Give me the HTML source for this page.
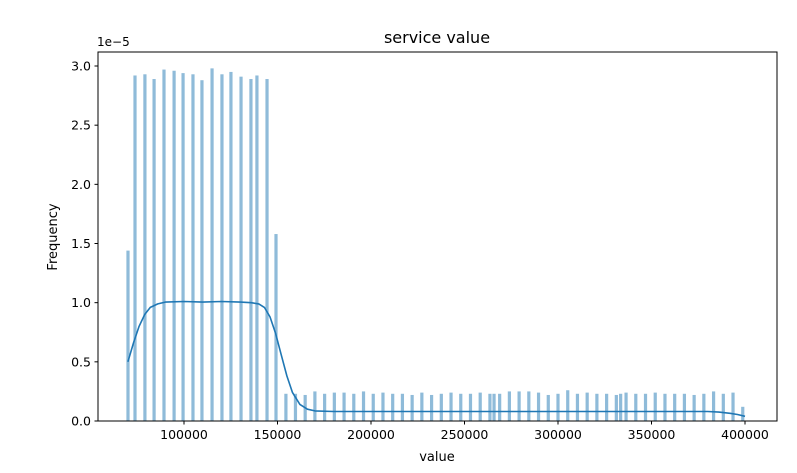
<!DOCTYPE html>
<html><head><meta charset="utf-8"><style>
body{margin:0;background:#fff;font-family:"Liberation Sans","DejaVu Sans",sans-serif}
svg text{font-family:"DejaVu Sans","Liberation Sans",sans-serif;fill:#000}
</style></head><body>
<svg id="c" width="797" height="468">
<rect x="0" y="0" width="797" height="468" fill="#fff"/>
<g id="bars"></g>
<g id="kde"></g>
<g id="axes"></g>
<rect x="98" y="52" width="679" height="369" fill="none" stroke="#000" stroke-width="1"/>
<text x="437" y="43" font-size="16" text-anchor="middle">service value</text>
<text x="437" y="461" font-size="13" text-anchor="middle">value</text>
<text x="0" y="0" font-size="13" text-anchor="middle" transform="translate(57,237) rotate(-90)">Frequency</text>
<text x="97" y="46" font-size="12">1e−5</text>
</svg>
<script>
const binCenters=[70050,73800,79100,84000,89300,94700,99500,104800,109600,115000,120300,125100,130500,135800,139000,144400,149200,
154500,159600,164800,170000,175200,180400,185600,190800,196000,201200,206400,211600,216800,222000,227200,232400,237600,242800,248000,253200,258400,263600,265800,268800,274000,279200,284400,289600,294800,300000,305200,310400,315600,320800,326000,331200,333500,336400,341600,346800,352000,357200,362400,367600,372800,378000,383200,388400,393600,398800];
const binHeights=[1.44,2.92,2.93,2.89,2.97,2.96,2.94,2.93,2.88,2.98,2.93,2.95,2.91,2.89,2.92,2.89,1.58,
0.23,0.23,0.22,0.25,0.23,0.24,0.24,0.23,0.25,0.23,0.24,0.23,0.23,0.22,0.24,0.22,0.23,0.24,0.23,0.23,0.24,0.23,0.23,0.23,0.25,0.25,0.25,0.24,0.22,0.23,0.26,0.23,0.24,0.23,0.23,0.22,0.23,0.24,0.23,0.23,0.24,0.23,0.23,0.23,0.22,0.23,0.25,0.23,0.24,0.12];
const kdeX=[70000,73000,76000,79000,82000,86000,90000,100000,110000,120000,130000,136000,140000,143000,146000,149000,152000,155000,158000,162000,166000,170000,180000,200000,250000,300000,350000,380000,386000,392000,396000,400000];
const kdeY=[0.50,0.66,0.80,0.90,0.96,0.99,1.005,1.01,1.005,1.01,1.005,1.0,0.99,0.96,0.88,0.74,0.56,0.38,0.24,0.14,0.10,0.085,0.08,0.08,0.08,0.08,0.08,0.08,0.075,0.065,0.055,0.04];
const xTicks=[100000,150000,200000,250000,300000,350000,400000];
const yTicks=[0,0.5,1.0,1.5,2.0,2.5,3.0];
const NS="http://www.w3.org/2000/svg";
function xs(v){return 184+(v-100000)*561/300000;}
function ys(v){return 421-v*118.33;}
function mk(t,a){const e=document.createElementNS(NS,t);for(const k in a)e.setAttribute(k,a[k]);return e;}
const bars=document.getElementById('bars');
binCenters.forEach((c,i)=>{const r=mk('rect',{x:xs(c)-1.6,y:ys(binHeights[i]),width:3.2,height:421-ys(binHeights[i]),fill:'#1f77b4','fill-opacity':0.5});


bars.appendChild(r);});
let d=kdeX.map((v,i)=>(i?'L':'M')+xs(v).toFixed(1)+','+ys(kdeY[i]).toFixed(1)).join('');
const p=mk('path',{d:d,fill:'none',stroke:'#1f77b4','stroke-width':1.6,'stroke-linejoin':'round'});


document.getElementById('kde').appendChild(p);
const ax=document.getElementById('axes');
xTicks.forEach(v=>{const l=mk('line',{x1:xs(v),x2:xs(v),y1:421,y2:424.5,stroke:'#000'});


ax.appendChild(l);
const t=mk('text',{x:xs(v),y:439,'font-size':12.5,'text-anchor':'middle'});t.textContent=v;


ax.appendChild(t);});
yTicks.forEach(v=>{const l=mk('line',{x1:94.5,x2:98,y1:ys(v),y2:ys(v),stroke:'#000'});


ax.appendChild(l);
const t=mk('text',{x:91,y:ys(v)+4.5,'font-size':12.5,'text-anchor':'end'});t.textContent=v.toFixed(1);


ax.appendChild(t);});
</script>
</body></html>
